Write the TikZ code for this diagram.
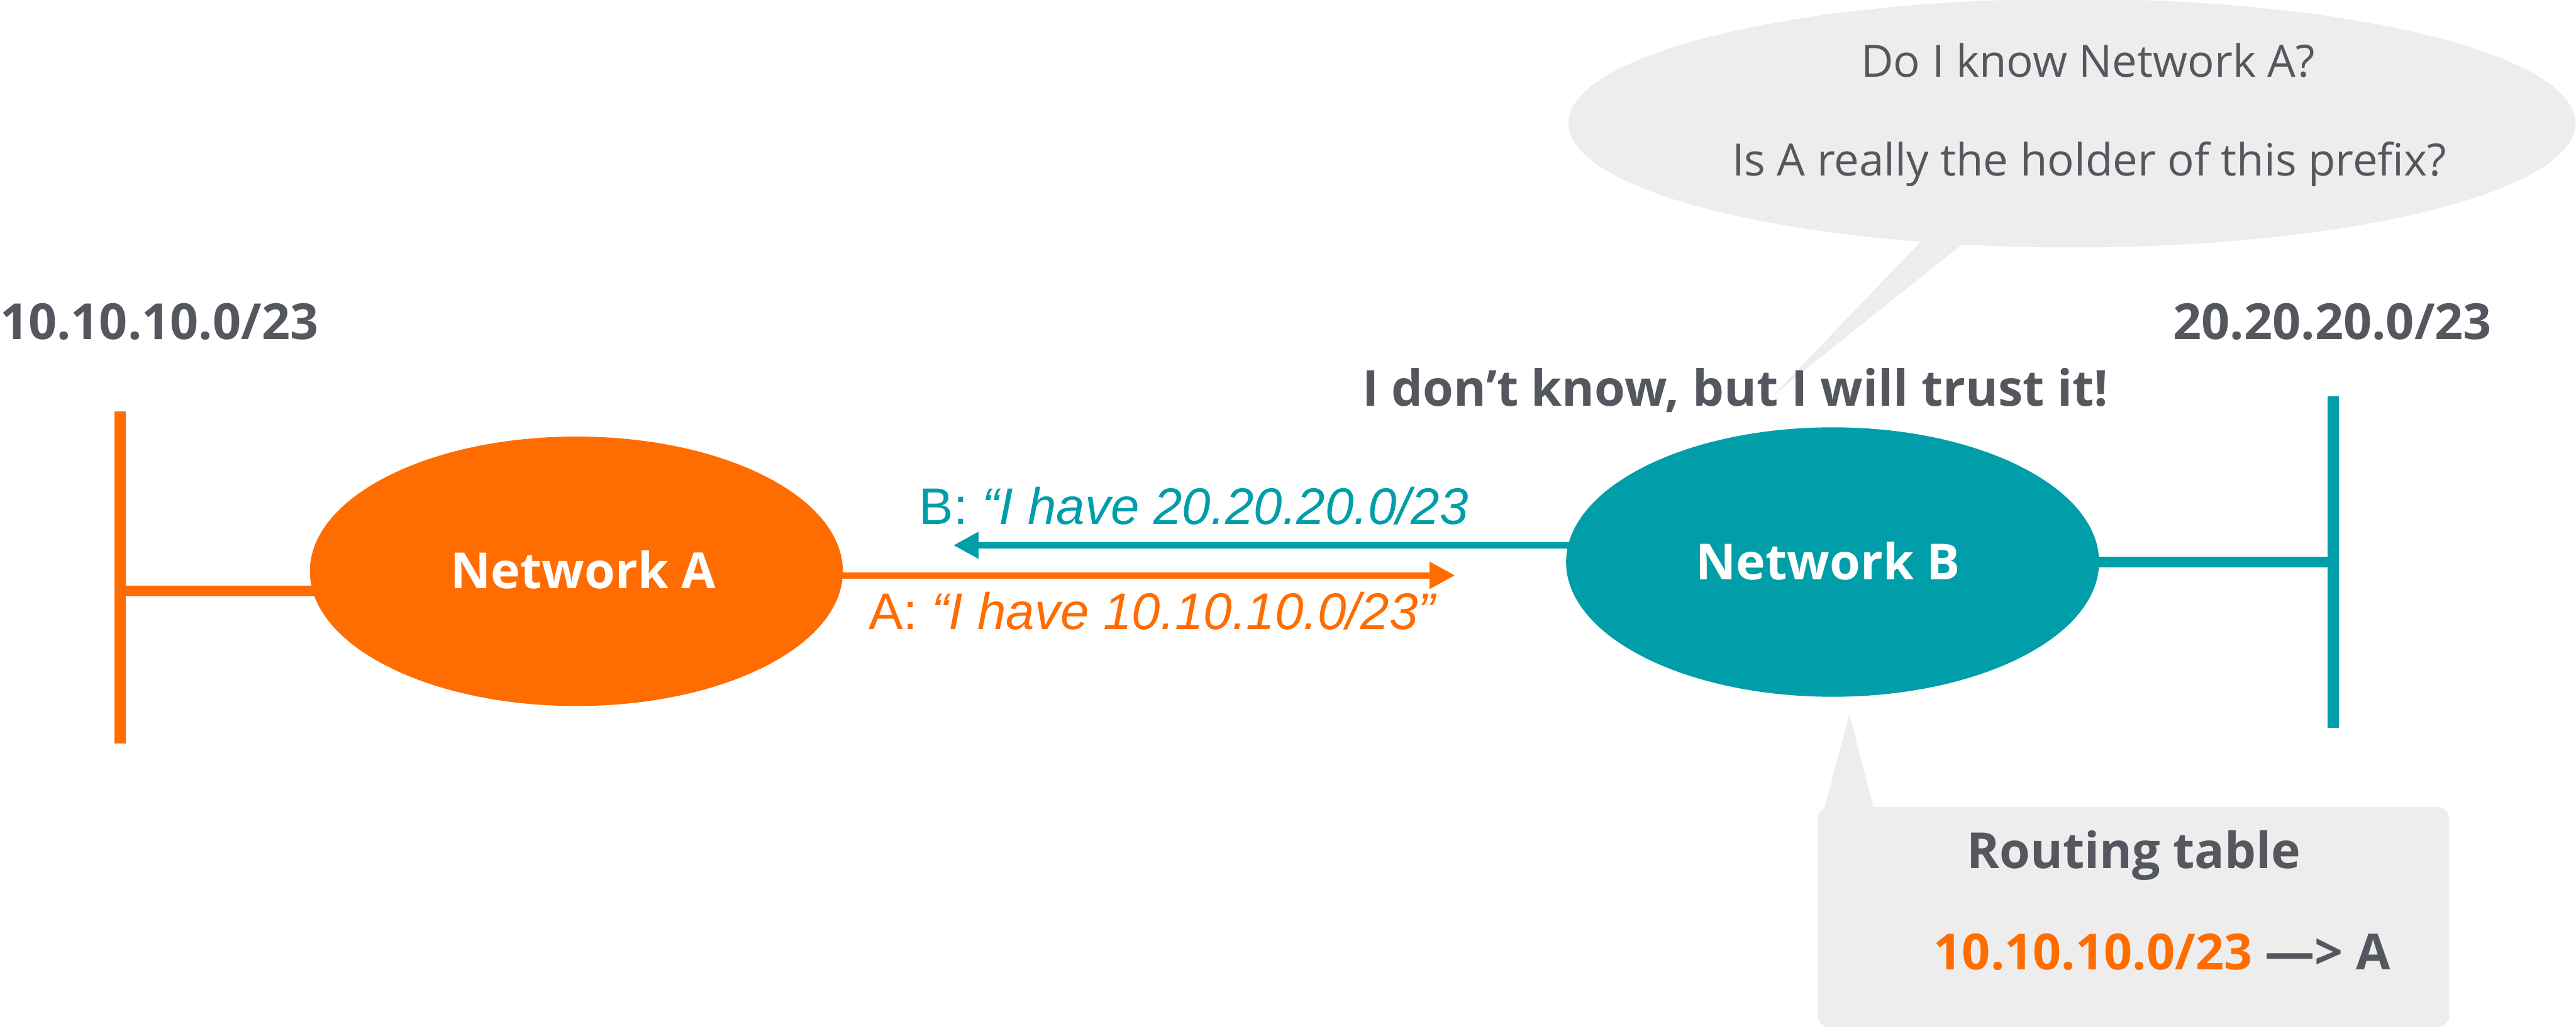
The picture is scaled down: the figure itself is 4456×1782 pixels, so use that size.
\documentclass[tikz,border=0pt]{standalone}
\usepackage{fontspec}
\setmainfont{Open Sans}
\newfontfamily\labelfont{Liberation Sans}
\usetikzlibrary{shapes.geometric,arrows.meta,backgrounds}

\definecolor{netorange}{RGB}{255,108,0}
\definecolor{netteal}{RGB}{0,158,168}
\definecolor{textgray}{RGB}{84,88,94}
\definecolor{bubblegray}{RGB}{237,237,237}

\tikzset{
  txt/.style={inner sep=0pt, outer sep=0pt, text=textgray},
  boldlabel/.style={txt, font=\fontsize{21.5pt}{26pt}\selectfont\bfseries},
  thought/.style={txt, font=\fontsize{19.25pt}{23pt}\selectfont},
  msg/.style={inner sep=0pt, outer sep=0pt, font=\labelfont\fontsize{22.25pt}{27pt}\selectfont},
  network/.style={ellipse, inner sep=0pt, outer sep=0pt,
    minimum width=230.5pt, minimum height=116.5pt},
  netname/.style={inner sep=0pt, outer sep=0pt, text=white,
    font=\fontsize{21.5pt}{26pt}\selectfont\bfseries},
  bar/.style={line width=4.75pt},
  link/.style={line width=4.5pt},
  announce/.style={line width=2.75pt, -{Triangle[length=11pt,width=11pt]}},
}

\begin{document}
\begin{tikzpicture}[x=0.25pt, y=-0.25pt]
\useasboundingbox (0,0) rectangle (4456,1782);

% thought bubble above network B
\node[ellipse, fill=bubblegray, inner sep=0pt, minimum width=435.5pt, minimum height=107.5pt] (bubble) at (3584,213) {};
\coordinate (bubbleTip) at (3068,683);
\fill[bubblegray] (3330,410) -- (bubbleTip) -- (3407,412) -- cycle;
\node[thought, anchor=base] (q1) at (3612,133) {Do I know Network A?};
\node[thought, anchor=base] (q2) at (3614,304) {Is A really the holder of this prefix?};

% address prefixes
\node[boldlabel, anchor=base west] (pfxA) at (0,587) {10.10.10.0/23};
\node[boldlabel, anchor=base east] (pfxB) at (4310,587) {20.20.20.0/23};

\node[boldlabel, anchor=base] (answer) at (3002,702) {I don’t know, but I will trust it!};

% the two networks
\node[network, fill=netorange] (netA) at (997,988) {};
\node[network, fill=netteal] (netB) at (3170,972) {};
\node[netname, anchor=base] (nameA) at (1009,1018) {Network A};
\node[netname, anchor=base] (nameB) at (3162,1003) {Network B};

% segments and links
\coordinate (barAtop) at (208,711);
\coordinate (barAbot) at (208,1286);
\coordinate (barAjoin) at (208,1022);
\coordinate (barBtop) at (4036,685);
\coordinate (barBbot) at (4036,1259);
\coordinate (barBjoin) at (4036,972);
\coordinate (aTip) at (2517,995);
\coordinate (bTip) at (1649,943);

\begin{scope}[on background layer]
  \draw[bar, netorange] (barAtop) -- (barAbot);
  \draw[link, netorange] (barAjoin) -- (barAjoin -| netA.center);
  \draw[bar, netteal] (barBtop) -- (barBbot);
  \draw[link, netteal] (netB.center |- barBjoin) -- (barBjoin);
  \draw[announce, netorange] (netA.center |- aTip) -- (aTip);
  \draw[announce, netteal] (netB.center |- bTip) -- (bTip);
\end{scope}

% announcements
\node[msg, text=netteal, anchor=base west] (msgB) at (1590,907) {B: \itshape “I have 20.20.20.0/23};
\node[msg, text=netorange, anchor=base west] (msgA) at (1503,1088) {A: \itshape “I have 10.10.10.0/23”};

% routing table callout
\node[fill=bubblegray, rounded corners=5pt, inner sep=0pt, minimum width=273.25pt, minimum height=95pt] (rtable) at (3690.5,1586) {};
\coordinate (rtableTip) at (3199,1235);
\fill[bubblegray] (3154,1405) -- (rtableTip) -- (3243,1405) -- cycle;
\node[boldlabel, anchor=base] (rtitle) at (3691,1502) {Routing table};
\node[boldlabel, anchor=base] (rentry) at (3740,1677) {\textcolor{netorange}{10.10.10.0/23} —> A};
\end{tikzpicture}
\end{document}
